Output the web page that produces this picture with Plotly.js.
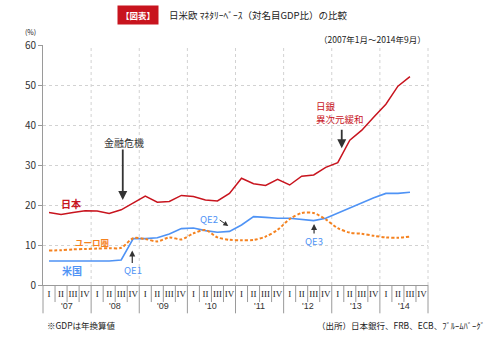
<!DOCTYPE html>
<html><head><meta charset="utf-8">
<script src="https://cdn.plot.ly/plotly-3.0.1.min.js"></script>
<style>html,body{margin:0;padding:0;background:#fff}#chart{width:500px;height:338px}</style>
</head><body><div id="chart"></div>
<script>
// Quarterly data, 2007 Q1 .. 2014 Q3 (% of nominal GDP)
const years = ["'07","'08","'09","'10","'11","'12","'13","'14"];
const quarterNames = ["I","II","III","IV"];
const japan = [18.1,17.6,18.1,18.55,18.5,17.9,18.8,20.5,22.2,20.7,20.9,22.4,22.1,21.25,21.0,22.9,26.7,25.3,24.9,26.4,25.0,27.2,27.5,29.4,30.6,36.2,38.7,42.0,45.2,49.7,52.1];
const us    = [6.0,6.0,6.0,6.0,6.0,6.0,6.25,11.6,11.6,11.8,12.75,14.1,14.25,13.6,13.2,13.4,15.0,17.1,16.9,16.7,16.7,16.4,16.1,16.7,18.0,19.4,20.6,21.8,22.9,22.9,23.2];
const euro  = [8.6,8.7,8.9,9.0,9.1,9.2,9.3,11.7,11.5,10.9,11.9,11.4,12.9,13.75,11.9,11.3,11.2,11.25,12.1,13.8,16.5,18.0,18.0,16.4,14.2,13.1,12.8,12.3,11.9,11.8,12.1];

const JP = "'Noto Sans CJK JP', sans-serif";
const RED = '#c8141e', BLUE = '#4f93f5', ORANGE = '#f5821f', GRID = '#d2d2d2', AXIS = '#9a9a9a';

const nQ = years.length * quarterNames.length;
const xs = arr => arr.map((_, i) => i + 0.5);

const traces = [
  {x: xs(japan), y: japan, mode: 'lines', line: {color: RED, width: 1.5}, hoverinfo: 'skip'},
  {x: xs(us), y: us, mode: 'lines', line: {color: BLUE, width: 1.6}, hoverinfo: 'skip'},
  {x: xs(euro), y: euro, mode: 'lines', line: {color: ORANGE, width: 2, dash: '3px,2px', shape: 'spline', smoothing: 0.8}, hoverinfo: 'skip'}
];

// Quarter labels on the axis
const tickvals = [], ticktext = [];
for (let i = 0; i < nQ; i++) { tickvals.push(i + 0.5); ticktext.push(quarterNames[i % 4]); }

// Shapes: vertical dotted grid at years, separators under axis
const shapes = [];
for (let k = 1; k <= years.length; k++) {
  shapes.push({type: 'line', xref: 'paper', yref: 'paper', x0: 4*k/nQ, x1: 4*k/nQ, y0: 0, y1: 1,
    line: {color: GRID, width: 1, dash: 'dot'}, layer: 'below'});
}
for (let i = 0; i <= nQ; i++) {
  const yearEdge = i % 4 === 0;
  shapes.push({type: 'line', xref: 'paper', yref: 'paper', x0: i/nQ, x1: i/nQ, y0: 0, y1: yearEdge ? -0.118 : -0.071,
    line: {color: AXIS, width: 1}});
}

const annotations = [];
years.forEach((y, k) => annotations.push({xref: 'x', yref: 'paper', x: 4*k + 2, y: 0, yshift: -21,
  xanchor: 'center', yanchor: 'middle',
  text: y, showarrow: false, font: {family: 'Liberation Sans, sans-serif', size: 9, color: '#333'}}));

const lbl = (x, y, text, size, color, extra) => Object.assign({xref: 'x', yref: 'y', x, y, text, showarrow: false,
  xanchor: 'center', yanchor: 'middle', font: {family: JP, size, color}}, extra || {});
// Series labels
annotations.push(
  lbl(2.33, 20.5, '<b>日本</b>', 10, RED),
  lbl(4.11, 10.8, '<b>ユーロ圏</b>', 8.5, ORANGE),
  lbl(2.41, 3.6, '<b>米国</b>', 10, BLUE),
  lbl(7.52, 3.7, 'QE1', 9.5, BLUE),
  lbl(13.76, 16.5, 'QE2', 9.5, BLUE),
  lbl(22.49, 11.1, 'QE3', 9.5, BLUE),
  lbl(6.73, 35.6, '金融危機', 10, '#333'),
  lbl(22.53, 44.8, '日銀', 9.5, RED, {xanchor: 'left', align: 'left'}),
  lbl(22.53, 41.5, '異次元緩和', 9.5, RED, {xanchor: 'left', align: 'left'})
);
// Arrows
const arrow = (x, y, ax, ay, w) => ({xref: 'x', yref: 'y', x, y, ax, ay, text: '', showarrow: true,
  arrowhead: 2, arrowsize: 1, arrowwidth: w, arrowcolor: '#333', standoff: 0});
annotations.push(
  arrow(7.42, 8.6, 0, 14, 1.2),
  arrow(15.4, 14.75, -10, -7, 1),
  arrow(22.53, 15.25, 0, 11, 1.2),
  arrow(6.63, 21.25, 0, -52, 1.8),
  arrow(24.83, 34.2, 0, -20, 1.8)
);
// Titles and notes
const note = (x, y, text, size, xanchor, extra) => Object.assign({xref: 'paper', yref: 'paper', x, y, text, showarrow: false,
  xanchor, yanchor: 'middle', font: {family: JP, size, color: '#222'}}, extra || {});
annotations.push(
  note(0.2468, 1.125, '<b>【図表】</b>', 8.5, 'center', {bgcolor: RED, borderpad: 3, font: {family: JP, size: 8.5, color: '#fff'}}),
  note(0.3213, 1.125, '日米欧 ﾏﾈﾀﾘｰﾍﾞｰｽ（対名目GDP比）の比較', 9.5, 'left'),
  note(1.0, 1.0238, '（2007年1月～2014年9月）', 8.5, 'right'),
  note(-0.0312, 1.056, '(%)', 7, 'center'),
  note(0.0052, -0.1667, '※GDPは年換算値', 8.5, 'left'),
  note(1.1532, -0.1667, '（出所）日本銀行、FRB、ECB、ﾌﾞﾙｰﾑﾊﾞｰｸﾞ', 8.5, 'right')
);

const layout = {
  width: 500, height: 338,
  margin: {l: 43, r: 72, t: 45, b: 53},
  paper_bgcolor: '#fff', plot_bgcolor: '#fff',
  showlegend: false,
  xaxis: {range: [0, nQ], tickmode: 'array', tickvals, ticktext, ticks: '', showgrid: false, zeroline: false,
    showline: true, linecolor: AXIS, linewidth: 1,
    tickfont: {family: 'Liberation Serif, serif', size: 9, color: '#222'}, fixedrange: true},
  yaxis: {range: [0, 60], dtick: 10, tick0: 0, showgrid: true, gridcolor: GRID, griddash: 'dot', gridwidth: 1,
    zeroline: false, showline: true, linecolor: AXIS, linewidth: 1, ticks: 'outside', ticklen: 4, tickcolor: AXIS,
    tickfont: {family: JP, size: 10, color: '#333'}, fixedrange: true},
  shapes, annotations
};

Plotly.newPlot('chart', traces, layout, {displayModeBar: false, staticPlot: true});
</script></body></html>
